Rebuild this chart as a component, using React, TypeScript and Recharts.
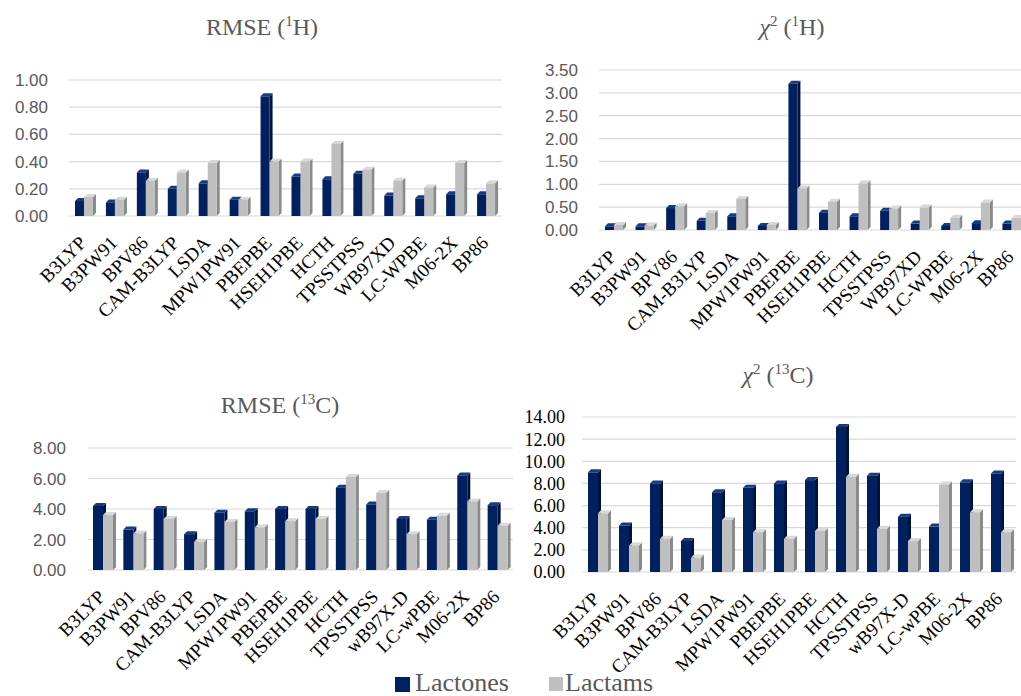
import { BarChart, Bar, XAxis, YAxis, CartesianGrid } from "recharts";

const methodsH = ["B3LYP", "B3PW91", "BPV86", "CAM-B3LYP", "LSDA", "MPW1PW91", "PBEPBE", "HSEH1PBE", "HCTH", "TPSSTPSS", "WB97XD", "LC-WPBE", "M06-2X", "BP86"];
const methodsC = ["B3LYP", "B3PW91", "BPV86", "CAM-B3LYP", "LSDA", "MPW1PW91", "PBEPBE", "HSEH1PBE", "HCTH", "TPSSTPSS", "wB97X-D", "LC-wPBE", "M06-2X", "BP86"];

const rmseHLactones = [0.11, 0.1, 0.32, 0.2, 0.24, 0.12, 0.88, 0.29, 0.27, 0.31, 0.15, 0.13, 0.16, 0.16];
const rmseHLactams = [0.14, 0.12, 0.26, 0.32, 0.39, 0.12, 0.4, 0.4, 0.53, 0.34, 0.26, 0.21, 0.39, 0.24];
const chiHLactones = [0.08, 0.08, 0.48, 0.2, 0.3, 0.09, 3.2, 0.38, 0.3, 0.42, 0.14, 0.09, 0.15, 0.14];
const chiHLactams = [0.11, 0.1, 0.52, 0.37, 0.68, 0.11, 0.91, 0.62, 1.02, 0.47, 0.49, 0.27, 0.6, 0.26];
const rmseCLactones = [4.2, 2.65, 4.0, 2.35, 3.75, 3.85, 4.0, 4.0, 5.4, 4.3, 3.35, 3.3, 6.2, 4.25];
const rmseCLactams = [3.6, 2.4, 3.35, 1.85, 3.15, 2.8, 3.2, 3.35, 6.1, 5.05, 2.35, 3.55, 4.5, 2.9];
const chiCLactones = [9.0, 4.2, 8.0, 2.8, 7.2, 7.6, 8.0, 8.3, 13.1, 8.7, 5.0, 4.1, 8.1, 8.9];
const chiCLactams = [5.3, 2.4, 3.0, 1.3, 4.7, 3.6, 3.0, 3.7, 8.6, 3.9, 2.8, 7.9, 5.4, 3.6];

const ticksRmseH = [0, 0.2, 0.4, 0.6, 0.8, 1.0];
const ticksChiH = [0, 0.5, 1.0, 1.5, 2.0, 2.5, 3.0, 3.5];
const ticksRmseC = [0, 2, 4, 6, 8];
const ticksChiC = [0, 2, 4, 6, 8, 10, 12, 14];

const NAVY = "#002060";
const GREY = "#bfbfbf";
const SERIF = "'Liberation Serif', 'Times New Roman', serif";
const SANS = "'Liberation Sans', Arial, sans-serif";

const build = (names: string[], a: number[], b: number[]) =>
  names.map((name, i) => ({ name, lactones: a[i], lactams: b[i] }));

function Bar3D(props: any) {
  const { x, y, width, height, fill, side, top } = props;
  if (!height || height <= 0) return null;
  const d = 3;
  return (
    <g>
      <path d={`M${x + width},${y} l${d},${-d} v${height} l${-d},${d} Z`} fill={side} />
      <path d={`M${x},${y} l${d},${-d} h${width} l${-d},${d} Z`} fill={top} />
      <rect x={x} y={y} width={width} height={height} fill={fill} />
    </g>
  );
}

function AngledTick(props: any) {
  const { x, y, payload } = props;
  const tx = x + 3;
  const ty = y + 20;
  return (
    <text
      x={tx}
      y={ty}
      transform={`rotate(-45, ${tx}, ${ty})`}
      textAnchor="end"
      fontFamily={SERIF}
      fontSize={19}
      fill="#000"
    >
      {payload.value}
    </text>
  );
}

interface PanelProps {
  data: { name: string; lactones: number; lactams: number }[];
  left: number;
  top: number;
  width: number;
  plotTop: number;
  plotHeight: number;
  yWidth: number;
  tickMargin: number;
  ticks: number[];
  serifTicks?: boolean;
  barSize: number;
}

function Panel(p: PanelProps) {
  const xh = 120;
  return (
    <div style={{ position: "absolute", left: p.left, top: p.top }}>
      <BarChart
        width={p.width}
        height={p.plotTop + p.plotHeight + xh}
        data={p.data}
        margin={{ top: p.plotTop, right: 0, bottom: 0, left: 0 }}
        barGap={0}
        barCategoryGap="16%"
      >
        <CartesianGrid vertical={false} stroke="#d9d9d9" strokeWidth={1.2} />
        <XAxis dataKey="name" interval={0} height={xh} axisLine={false} tickLine={false} tick={<AngledTick />} />
        <YAxis
          width={p.yWidth}
          domain={[p.ticks[0], p.ticks[p.ticks.length - 1]]}
          ticks={p.ticks}
          interval={0}
          tickFormatter={(v: number) => v.toFixed(2)}
          axisLine={false}
          tickLine={false}
          tickSize={6}
          tickMargin={p.tickMargin}
          tick={{
            fontSize: p.serifTicks ? 18 : 17,
            fontFamily: p.serifTicks ? SERIF : SANS,
            fill: p.serifTicks ? "#000" : "#595959",
          }}
        />
        <Bar dataKey="lactones" barSize={p.barSize} fill={NAVY} isAnimationActive={false}
          shape={(s: any) => <Bar3D {...s} fill={NAVY} side="#00133a" top="#183a7e" />} />
        <Bar dataKey="lactams" barSize={p.barSize} fill={GREY} isAnimationActive={false}
          shape={(s: any) => <Bar3D {...s} fill={GREY} side="#8a8a8a" top="#d9d9d9" />} />
      </BarChart>
    </div>
  );
}

function Title({ x, y, chi, iso }: { x: number; y: number; chi: boolean; iso: string }) {
  return (
    <div
      style={{
        position: "absolute",
        left: x - 150,
        top: y - 20,
        width: 300,
        textAlign: "center",
        fontFamily: SERIF,
        fontSize: 24,
        color: "#595959",
        lineHeight: "32px",
        whiteSpace: "nowrap",
      }}
    >
      {chi ? (
        <span>
          <i>χ</i>
          <sup style={{ fontSize: 15 }}>2</sup>
        </span>
      ) : (
        "RMSE"
      )}{" "}
      (<sup style={{ fontSize: 15 }}>{iso}</sup>
      {iso === "1" ? "H" : "C"})
    </div>
  );
}

export default function App() {
  return (
    <div
      style={{
        position: "fixed",
        left: 0,
        top: 0,
        width: 1021,
        height: 696,
        overflow: "hidden",
        background: "#fff",
      }}
    >
      <Title x={262} y={25} chi={false} iso="1" />
      <Title x={792} y={25} chi={true} iso="1" />
      <Title x={280} y={403} chi={false} iso="13" />
      <Title x={778} y={373} chi={true} iso="13" />

      <Panel data={build(methodsH, rmseHLactones, rmseHLactams)} left={0} top={0} width={502}
        plotTop={80} plotHeight={136} yWidth={69} tickMargin={15} ticks={ticksRmseH} barSize={9} />
      <Panel data={build(methodsH, chiHLactones, chiHLactams)} left={510} top={0} width={517}
        plotTop={70} plotHeight={160} yWidth={89} tickMargin={15} ticks={ticksChiH} barSize={9} />
      <Panel data={build(methodsC, rmseCLactones, rmseCLactams)} left={0} top={350} width={513}
        plotTop={98} plotHeight={122} yWidth={88} tickMargin={16} ticks={ticksRmseC} barSize={10} />
      <Panel data={build(methodsC, chiCLactones, chiCLactams)} left={510} top={350} width={506}
        plotTop={67} plotHeight={155} yWidth={72} tickMargin={11} ticks={ticksChiC} serifTicks barSize={10} />

      <div style={{ position: "absolute", left: 395, top: 677, width: 15, height: 15, background: NAVY }} />
      <div style={{ position: "absolute", left: 415, top: 668, fontFamily: SERIF, fontSize: 26, lineHeight: "30px", color: "#595959" }}>
        Lactones
      </div>
      <div style={{ position: "absolute", left: 549, top: 677, width: 14, height: 14, background: GREY }} />
      <div style={{ position: "absolute", left: 565, top: 668, fontFamily: SERIF, fontSize: 26, lineHeight: "30px", color: "#595959" }}>
        Lactams
      </div>
    </div>
  );
}
